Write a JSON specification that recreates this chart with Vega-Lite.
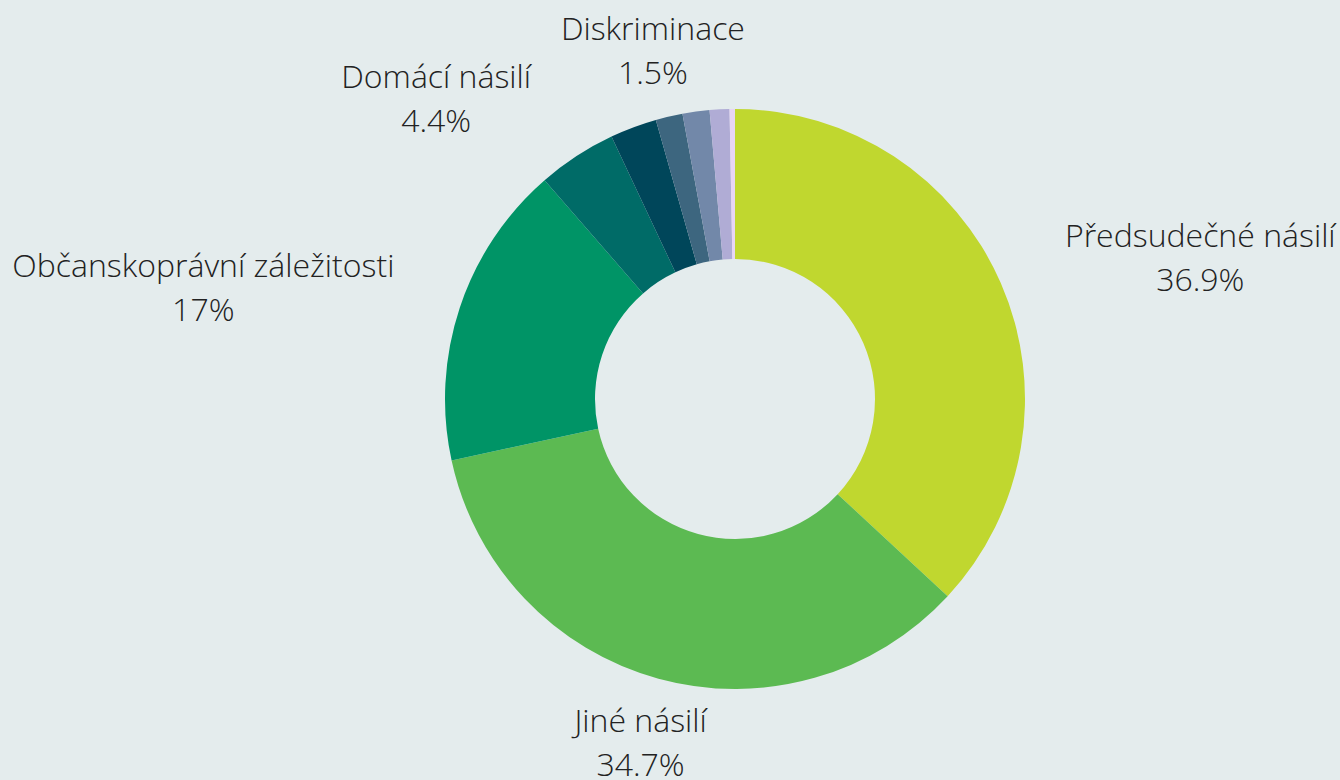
{
  "$schema": "https://vega.github.io/schema/vega-lite/v6.json",
  "autosize": {"type": "none"},
  "width": 1210,
  "height": 762,
  "padding": {"left": 130, "right": 0, "top": 18, "bottom": 0},
  "background": "#e4eced",
  "config": {"view": {"stroke": null}},
  "data": {"values": [
    {"idx": 1, "name": "Předsudečné násilí", "value": 36.9, "label": ["Předsudečné násilí", "36.9%"]},
    {"idx": 2, "name": "Jiné násilí", "value": 34.7, "label": ["Jiné násilí", "34.7%"]},
    {"idx": 3, "name": "Občanskoprávní záležitosti", "value": 17.0, "label": ["Občanskoprávní záležitosti", "17%"]},
    {"idx": 4, "name": "Domácí násilí", "value": 4.4, "label": ["Domácí násilí", "4.4%"]},
    {"idx": 5, "name": "Kategorie 5", "value": 2.6, "label": ["Kategorie 5", "2.6%"]},
    {"idx": 6, "name": "Kategorie 6", "value": 1.5, "label": ["Kategorie 6", "1.5%"]},
    {"idx": 7, "name": "Diskriminace", "value": 1.5, "label": ["Diskriminace", "1.5%"]},
    {"idx": 8, "name": "Kategorie 8", "value": 1.1, "label": ["Kategorie 8", "1.1%"]},
    {"idx": 9, "name": "Kategorie 9", "value": 0.3, "label": ["Kategorie 9", "0.3%"]}
  ]},
  "transform": [
    {"stack": "value", "groupby": [], "sort": [{"field": "idx", "order": "ascending"}], "as": ["v0", "v1"]},
    {"calculate": "(datum.v0 + datum.v1) / 2", "as": "mid"}
  ],
  "layer": [
    {
      "mark": {"type": "arc", "outerRadius": 290, "innerRadius": 140},
      "encoding": {
        "theta": {"field": "v0", "type": "quantitative", "scale": {"domain": [0, 100]}},
        "theta2": {"field": "v1"},
        "color": {
          "field": "name", "type": "nominal", "legend": null,
          "scale": {
            "domain": ["Předsudečné násilí", "Jiné násilí", "Občanskoprávní záležitosti", "Domácí násilí", "Kategorie 5", "Kategorie 6", "Diskriminace", "Kategorie 8", "Kategorie 9"],
            "range": ["#c0d72f", "#5cba52", "#009466", "#006b67", "#00465a", "#3d667f", "#7288a9", "#b0acd5", "#e8d5f5"]
          }
        }
      }
    },
    {
      "transform": [{"filter": {"field": "idx", "equal": 1}}],
      "mark": {"type": "text", "radius": 320, "dx": 172, "dy": -34, "font": "Open Sans", "fontWeight": 300, "fontSize": 32, "lineHeight": 44, "align": "center", "baseline": "middle", "color": "#222222"},
      "encoding": {"theta": {"field": "mid", "type": "quantitative"}, "text": {"field": "label"}}
    },
    {
      "transform": [{"filter": {"field": "idx", "equal": 2}}],
      "mark": {"type": "text", "radius": 320, "dx": -10, "dy": 14, "font": "Open Sans", "fontWeight": 300, "fontSize": 32, "lineHeight": 44, "align": "center", "baseline": "middle", "color": "#222222"},
      "encoding": {"theta": {"field": "mid", "type": "quantitative"}, "text": {"field": "label"}}
    },
    {
      "transform": [{"filter": {"field": "idx", "equal": 3}}],
      "mark": {"type": "text", "radius": 320, "dx": -228, "dy": -31, "font": "Open Sans", "fontWeight": 300, "fontSize": 32, "lineHeight": 44, "align": "center", "baseline": "middle", "color": "#222222"},
      "encoding": {"theta": {"field": "mid", "type": "quantitative"}, "text": {"field": "label"}}
    },
    {
      "transform": [{"filter": {"field": "idx", "equal": 4}}],
      "mark": {"type": "text", "radius": 320, "dx": -124, "dy": -53, "font": "Open Sans", "fontWeight": 300, "fontSize": 32, "lineHeight": 44, "align": "center", "baseline": "middle", "color": "#222222"},
      "encoding": {"theta": {"field": "mid", "type": "quantitative"}, "text": {"field": "label"}}
    },
    {
      "transform": [{"filter": {"field": "idx", "equal": 7}}],
      "mark": {"type": "text", "radius": 320, "dx": -39, "dy": -52, "font": "Open Sans", "fontWeight": 300, "fontSize": 32, "lineHeight": 44, "align": "center", "baseline": "middle", "color": "#222222"},
      "encoding": {"theta": {"field": "mid", "type": "quantitative"}, "text": {"field": "label"}}
    }
  ]
}
